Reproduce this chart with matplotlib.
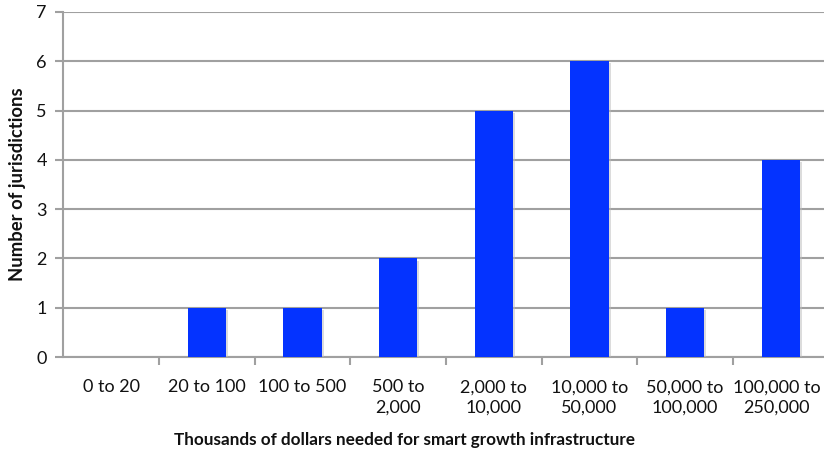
import matplotlib
matplotlib.use("Agg")
import matplotlib.pyplot as plt
import matplotlib.patheffects as pe
import numpy as np

categories = ["0 to 20", "20 to 100", "100 to 500", "500 to\n2,000", "2,000 to\n10,000",
              "10,000 to\n50,000", "50,000 to\n100,000", "100,000 to\n250,000"]
counts = [0, 1, 1, 2, 5, 6, 1, 4]
y_ticks = [0, 1, 2, 3, 4, 5, 6, 7]

plt.rcParams['font.family'] = ['Lato', 'DejaVu Sans']

W, H = 824, 454
fig = plt.figure(figsize=(W / 100, H / 100), dpi=100)
left, right, top, bottom = 63.5, 828.5, 12, 357
ax = fig.add_axes([left / W, 1 - bottom / H, (right - left) / W, (bottom - top) / H])

x = np.arange(len(categories))
bars = ax.bar(x, counts, width=0.4, color="#0433FF", zorder=3)
for b in bars:
    b.set_path_effects([pe.SimplePatchShadow(offset=(1.5, -1.5), shadow_rgbFace="#bbbbbb", alpha=0.5),
                        pe.Normal()])

ax.set_xlim(-0.5, len(categories) - 0.5)
ax.set_ylim(0, 7)
ax.set_yticks(y_ticks)
ax.yaxis.grid(True, color="#a0a0a0", linewidth=1.5, zorder=0)
ax.set_axisbelow(True)

ax.set_xticks(x)
ax.set_xticklabels(categories, fontsize=13, color="#111111", linespacing=1.35)
ax.set_xticks(np.arange(len(categories)) + 0.5, minor=True)
ax.tick_params(axis="x", which="major", length=0, pad=16)
ax.tick_params(axis="x", which="minor", length=6, width=1.5, color="#a0a0a0")
ax.tick_params(axis="y", length=6, width=1.5, color="#a0a0a0", labelsize=13, pad=6,
               labelcolor="#111111")
# keep the rightmost category label inside the canvas
ax.get_xticklabels()[-1].set_x(ax.get_xticks()[-1])
last = ax.get_xticklabels()[-1]
last.set_transform(last.get_transform() + matplotlib.transforms.ScaledTranslation(-4 / 100, 0, fig.dpi_scale_trans))

for s in ["top", "right"]:
    ax.spines[s].set_visible(False)
for s in ["left", "bottom"]:
    ax.spines[s].set_color("#a0a0a0")
    ax.spines[s].set_linewidth(1.5)

fig.text(18 / W, 1 - 184 / H, "Number of jurisdictions", fontsize=13.3, fontweight="bold",
         rotation=90, ha="center", va="center", color="#111111")
fig.text(404 / W, 1 - 440 / H, "Thousands of dollars needed for smart growth infrastructure",
         fontsize=12.3, fontweight="bold", ha="center", va="center", color="#111111")

fig.savefig("out.png", dpi=100)
